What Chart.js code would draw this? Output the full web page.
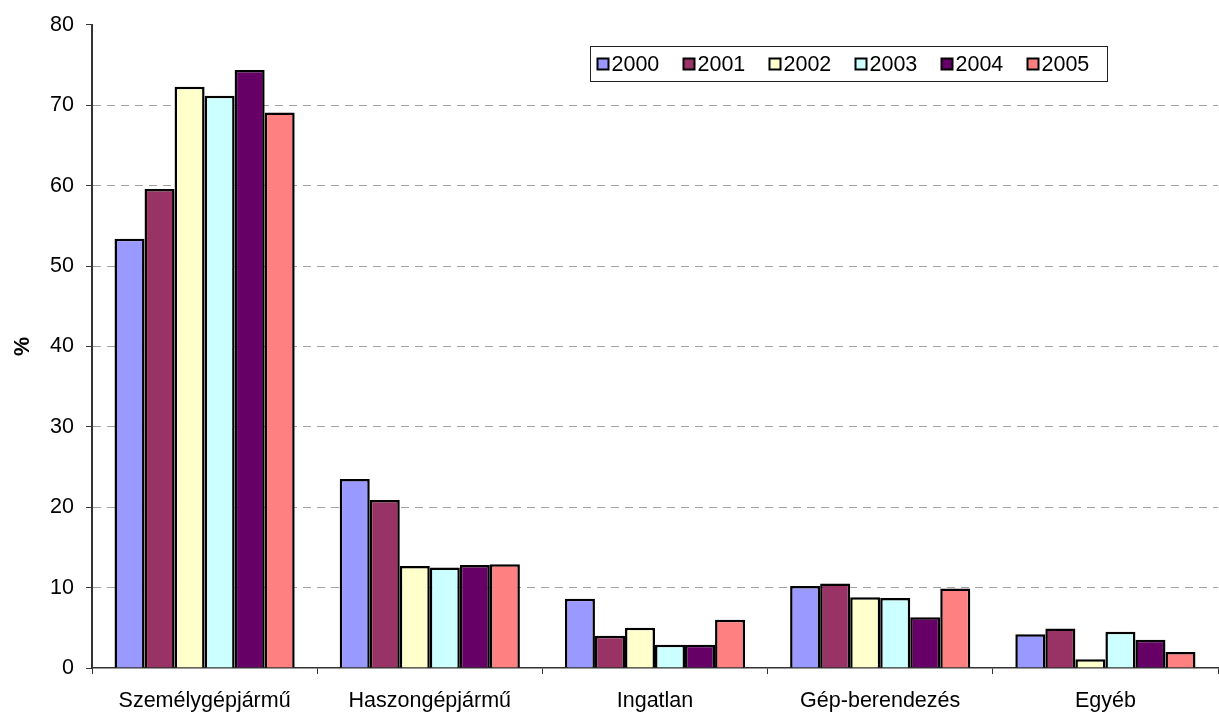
<!DOCTYPE html>
<html>
<head>
<meta charset="utf-8">
<script src="https://cdn.jsdelivr.net/npm/chart.js@4.4.0/dist/chart.umd.min.js"></script>
<style>
  html, body { margin: 0; padding: 0; background: #ffffff; }
  #wrap { width: 1219px; height: 718px; position: relative; }
</style>
</head>
<body>
<div id="wrap"><canvas id="c" width="1219" height="718"></canvas></div>
<script>
const categories = ['Személygépjármű', 'Haszongépjármű', 'Ingatlan', 'Gép-berendezés', 'Egyéb'];
const years = ['2000', '2001', '2002', '2003', '2004', '2005'];
const v2000 = [53.4, 23.5, 8.6, 10.2, 4.2];
const v2001 = [59.6, 20.9, 4.0, 10.5, 4.9];
const v2002 = [72.3, 12.7, 5.0, 8.8, 1.1];
const v2003 = [71.2, 12.5, 2.9, 8.7, 4.5];
const v2004 = [74.4, 12.8, 2.9, 6.3, 3.5];
const v2005 = [69.1, 12.9, 6.0, 9.9, 2.0];
const yTicks = [0, 10, 20, 30, 40, 50, 60, 70, 80];
const colors = ['#9999FF', '#993366', '#FFFFCC', '#CCFFFF', '#660066', '#FF8080'];
const series = [v2000, v2001, v2002, v2003, v2004, v2005];

const FONT = 'Arial, "Liberation Sans", sans-serif';
const FS = 21.5;

const legendPlugin = {
  id: 'boxLegend',
  afterDraw(chart) {
    const ctx = chart.ctx;
    const x0 = 590.5, y0 = 46.5, w = 517, h = 35;
    ctx.save();
    ctx.fillStyle = '#ffffff';
    ctx.fillRect(x0, y0, w, h);
    ctx.strokeStyle = '#222222';
    ctx.lineWidth = 1;
    ctx.strokeRect(x0, y0, w, h);
    ctx.font = FS + 'px ' + FONT;
    ctx.textBaseline = 'middle';
    ctx.textAlign = 'left';
    chart.data.datasets.forEach((ds, i) => {
      const ix = 597.5 + i * 86;
      ctx.fillStyle = ds.backgroundColor;
      ctx.fillRect(ix, 58.5, 11, 11);
      ctx.lineWidth = 2;
      ctx.strokeStyle = '#000000';
      ctx.strokeRect(ix, 58.5, 11, 11);
      ctx.fillStyle = '#000000';
      ctx.fillText(ds.label, ix + 14, 65);
    });
    ctx.restore();
  }
};

new Chart(document.getElementById('c'), {
  type: 'bar',
  data: {
    labels: categories,
    datasets: years.map((y, i) => ({
      label: y,
      data: series[i],
      backgroundColor: colors[i],
      borderColor: '#000000',
      borderWidth: 2.5,
      categoryPercentage: 0.8,
      barPercentage: 1.0
    }))
  },
  options: {
    responsive: false,
    animation: false,
    devicePixelRatio: 1,
    layout: { padding: { top: 24, right: 1, left: 0, bottom: 0 } },
    plugins: {
      legend: { display: false },
      tooltip: { enabled: false }
    },
    scales: {
      x: {
        offset: true,
        grid: {
          offset: true,
          drawOnChartArea: false,
          drawTicks: true,
          tickLength: 6,
          tickColor: '#333333',
          lineWidth: 1
        },
        border: { display: true, color: '#333333', width: 1.5 },
        ticks: {
          color: '#000000',
          font: { family: FONT, size: FS },
          padding: 14,
          maxRotation: 0,
          autoSkip: false
        },
        afterFit(scale) { scale.height = 50; }
      },
      y: {
        min: 0,
        max: 80,
        afterBuildTicks(scale) { scale.ticks = yTicks.map(v => ({ value: v })); },
        grid: {
          color: (c) => (c.tick && (c.tick.value === 0 || c.tick.value === 80)) ? 'rgba(0,0,0,0)' : '#a0a0a0',
          lineWidth: 1,
          drawTicks: true,
          tickLength: 6,
          tickColor: '#333333',
          tickBorderDash: []
        },
        border: { display: true, color: '#333333', width: 2, dash: [8, 6] },
        ticks: {
          color: '#000000',
          font: { family: FONT, size: FS },
          padding: 12
        },
        title: {
          display: true,
          text: '%',
          color: '#000000',
          font: { family: FONT, size: FS, weight: 'bold' },
          padding: { top: 10, bottom: 0 }
        },
        afterFit(scale) { scale.width = 92; }
      }
    }
  },
  plugins: [legendPlugin]
});
</script>
</body>
</html>
